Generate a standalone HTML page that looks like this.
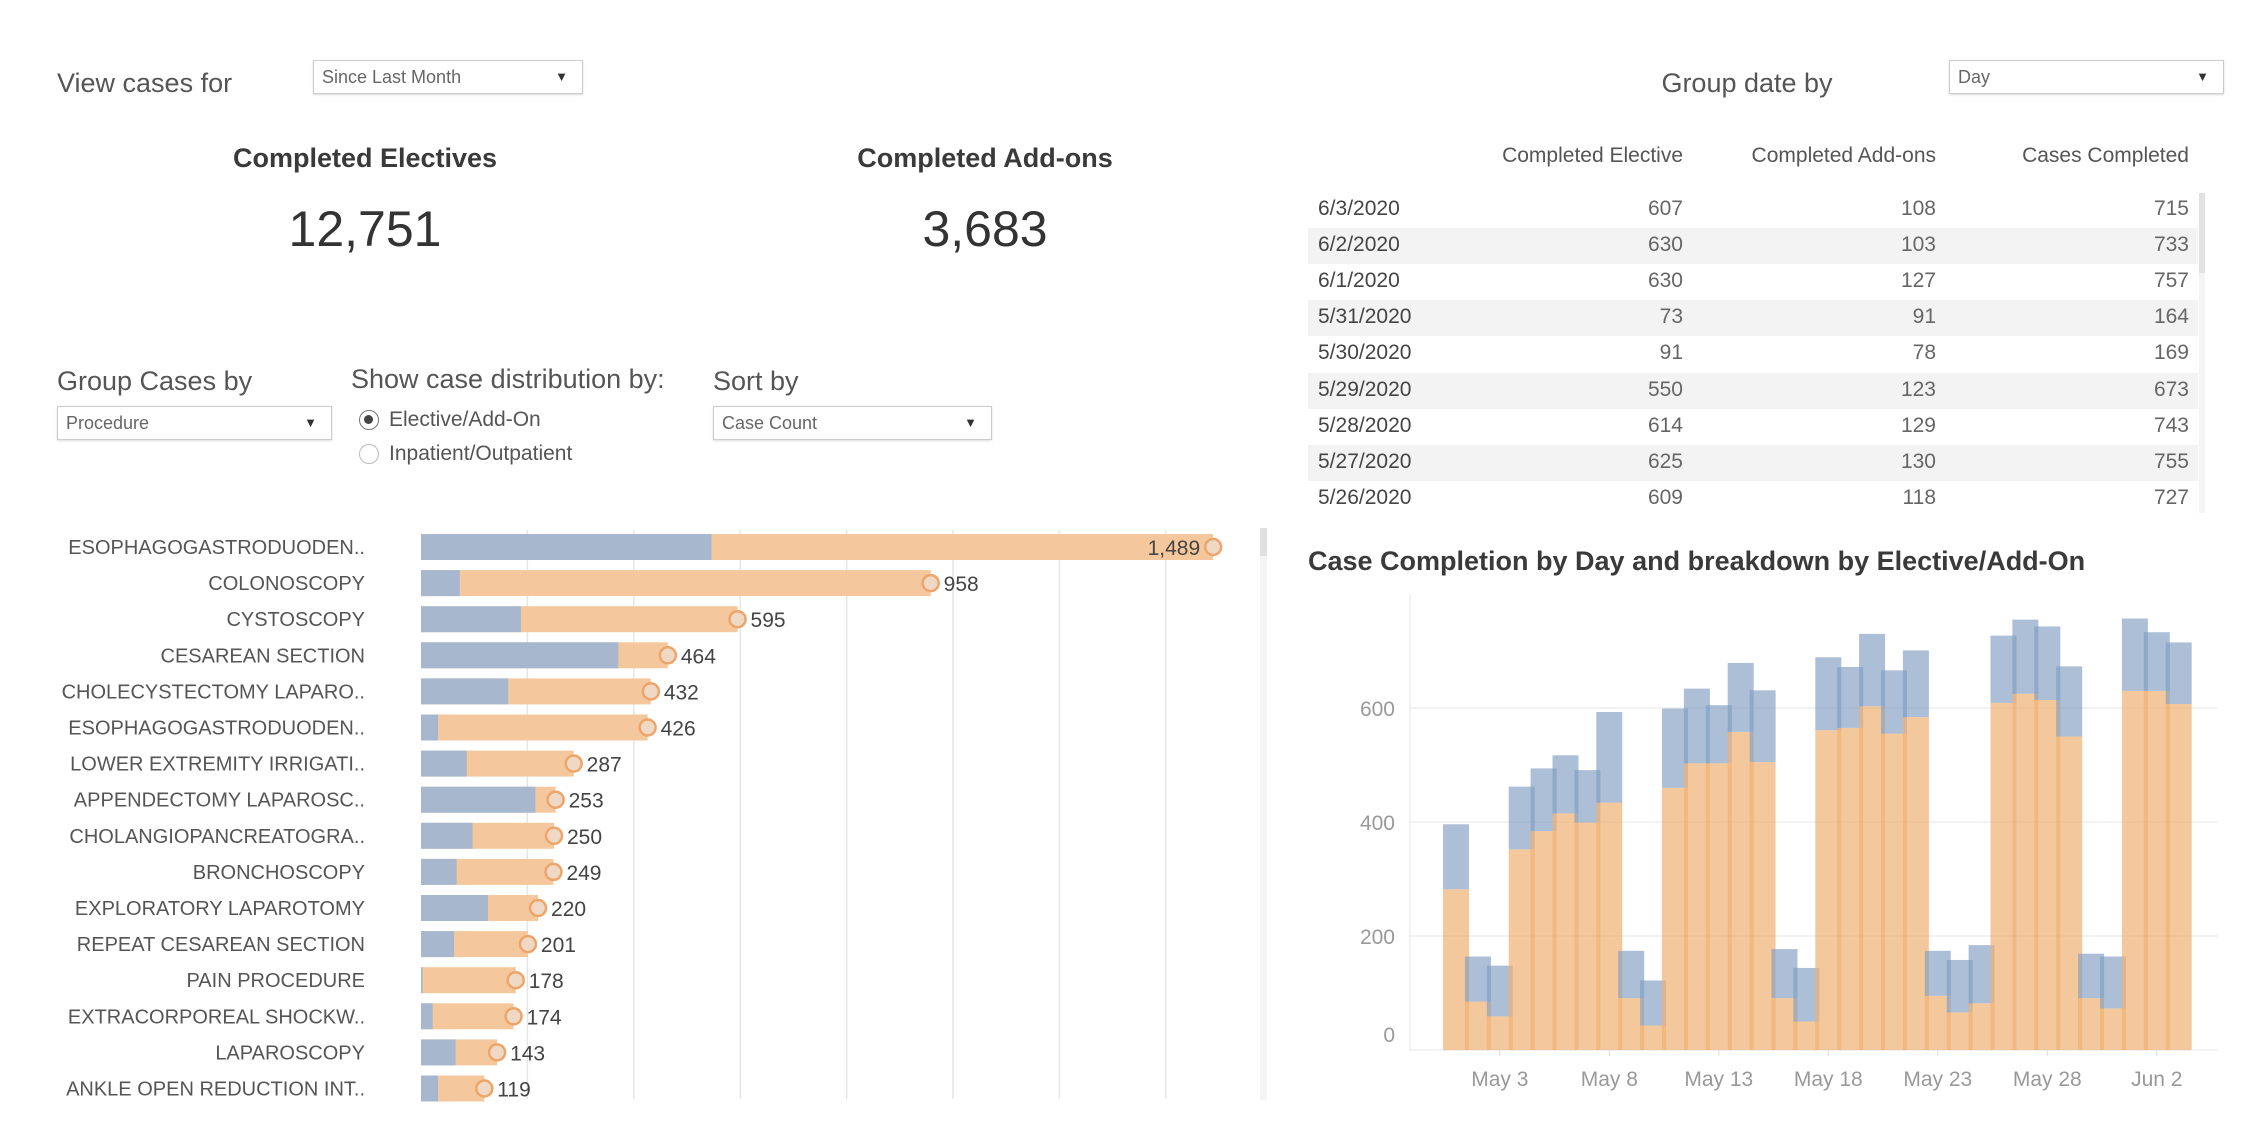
<!DOCTYPE html>
<html><head><meta charset="utf-8">
<style>
body{margin:0;width:2244px;height:1140px;background:#fff;position:relative;overflow:hidden;font-family:"Liberation Sans Narrow","Liberation Sans",sans-serif;color:#555}
.a{position:absolute;white-space:nowrap}
.dd{position:absolute;border:1px solid #ccc;background:#fff;box-shadow:0 1px 2px #ddd;font-size:18px;color:#666;box-sizing:border-box;padding:6px 8px}
.dd .arr{position:absolute;right:14px;top:8px;font-size:13px;color:#333}
.h{font-size:27px;color:#555}
</style></head><body>
<div class="a h" style="left:57px;top:68px">View cases for</div>
<div class="dd" style="left:313px;top:60px;width:270px;height:34px">Since Last Month<span class="arr">▼</span></div>
<div class="a" style="left:365px;top:143px;transform:translateX(-50%);font-size:27px;font-weight:bold;color:#3a3a3a">Completed Electives</div>
<div class="a" style="left:365px;top:200px;transform:translateX(-50%);font-size:50px;color:#333">12,751</div>
<div class="a" style="left:985px;top:143px;transform:translateX(-50%);font-size:27px;font-weight:bold;color:#3a3a3a">Completed Add-ons</div>
<div class="a" style="left:985px;top:200px;transform:translateX(-50%);font-size:50px;color:#333">3,683</div>
<div class="a h" style="left:1747px;top:68px;transform:translateX(-50%)">Group date by</div>
<div class="dd" style="left:1949px;top:60px;width:275px;height:34px">Day<span class="arr">▼</span></div>

<div class="a h" style="left:57px;top:366px">Group Cases by</div>
<div class="dd" style="left:57px;top:406px;width:275px;height:34px">Procedure<span class="arr">▼</span></div>
<div class="a h" style="left:351px;top:364px">Show case distribution by:</div>
<div class="a" style="left:359px;top:410px;width:20px;height:20px;border:1.5px solid #777;border-radius:50%;box-sizing:border-box"><div style="width:9px;height:9px;border-radius:50%;background:#444;margin:4px"></div></div>
<div class="a" style="left:389px;top:408px;font-size:21px">Elective/Add-On</div>
<div class="a" style="left:359px;top:444px;width:20px;height:20px;border:1.5px solid #bbb;border-radius:50%;box-sizing:border-box"></div>
<div class="a" style="left:389px;top:442px;font-size:21px">Inpatient/Outpatient</div>
<div class="a h" style="left:713px;top:366px">Sort by</div>
<div class="dd" style="left:713px;top:406px;width:279px;height:34px">Case Count<span class="arr">▼</span></div>

<div id="table"></div>
<div class="a" style="left:2199px;top:193px;width:6px;height:320px;background:#f4f4f4"><div style="height:80px;background:#e2e2e2"></div></div>
<div class="a" style="left:1260px;top:528px;width:7px;height:572px;background:#f4f4f4"><div style="height:28px;background:#e0e0e0"></div></div>

<div class="a" style="left:1308px;top:546px;font-size:27px;font-weight:bold;color:#3a3a3a">Case Completion by Day and breakdown by Elective/Add-On</div>

<svg id="bars" class="a" style="left:0;top:0" width="2244" height="1140"></svg>

<script>
// Procedure chart data
const procNames=["ESOPHAGOGASTRODUODEN..","COLONOSCOPY","CYSTOSCOPY","CESAREAN SECTION","CHOLECYSTECTOMY LAPARO..","ESOPHAGOGASTRODUODEN..","LOWER EXTREMITY IRRIGATI..","APPENDECTOMY LAPAROSC..","CHOLANGIOPANCREATOGRA..","BRONCHOSCOPY","EXPLORATORY LAPAROTOMY","REPEAT CESAREAN SECTION","PAIN PROCEDURE","EXTRACORPOREAL SHOCKW..","LAPAROSCOPY","ANKLE OPEN REDUCTION INT.."];
const procTotal=[1489,958,595,464,432,426,287,253,250,249,220,201,178,174,143,119];
const procBlue=[546,73,188,371,164,32,86,215,97,67,126,62,3,22,65,32];
const procGrid=[200,400,600,800,1000,1200,1400];
// Daily chart data
const dayLabels=["May 3","May 8","May 13","May 18","May 23","May 28","Jun 2"];
const dayLabelIdx=[2,7,12,17,22,27,32];
const elective=[282,85,59,352,384,415,399,434,91,43,460,503,503,558,505,91,50,561,565,603,555,584,95,66,82,609,625,614,550,91,73,630,630,607];
const addons=[114,79,89,110,110,102,92,159,83,79,139,131,102,121,126,86,94,128,107,127,111,117,79,92,102,118,130,129,123,78,91,127,103,108];
const yTicks=[0,200,400,600];
// Table data
const tDates=["6/3/2020","6/2/2020","6/1/2020","5/31/2020","5/30/2020","5/29/2020","5/28/2020","5/27/2020","5/26/2020"];
const tElective=[607,630,630,73,91,550,614,625,609];
const tAddon=[108,103,127,91,78,123,129,130,118];

const NS="http://www.w3.org/2000/svg";
const svg=document.getElementById('bars');
function mk(tag,attrs,parent){const e=document.createElementNS(NS,tag);for(const k in attrs)e.setAttribute(k,attrs[k]);(parent||svg).appendChild(e);return e;}
const BLUE="#a7b7ce",ORANGE="#f4c89c";

// procedure chart
const px0=421,pk=0.532,py0=547,pstep=36.1,bh=26;
const xP=v=>px0+v*pk, yP=i=>py0+i*pstep;
procGrid.forEach(g=>{const l=mk('line',{x1:xP(g),x2:xP(g),y1:530,y2:1099,stroke:'#e6e6e6','stroke-width':1.5});

});
procNames.forEach((n,i)=>{
 const y=yP(i);
 const t=mk('text',{x:365,y:y+7,'text-anchor':'end','font-size':20,fill:'#555'});t.textContent=n;
 
 
 const o=mk('rect',{x:px0,y:y-bh/2,width:procTotal[i]*pk,height:bh,fill:ORANGE});
 
 
 const b=mk('rect',{x:px0,y:y-bh/2,width:procBlue[i]*pk,height:bh,fill:BLUE});
 
 
 const c=mk('circle',{cx:xP(procTotal[i]),cy:y,r:8,fill:'#f0d9c4',stroke:'#eca56a','stroke-width':2.5});
 
 
 const lbl=procTotal[i].toLocaleString('en-US');
 const inside=xP(procTotal[i])+60>1255;
 const v=mk('text',{x:inside?xP(procTotal[i])-13:xP(procTotal[i])+13,y:y+8,'text-anchor':inside?'end':'start','font-size':21,fill:'#444'});v.textContent=lbl;
 
 
});

// daily chart
const y0=1050,yk=0.57,x0d=1456,dstep=21.9,bw=26;
const yD=v=>y0-v*yk, xD=i=>x0d+i*dstep;
yTicks.forEach(t=>{
 const l=mk('line',{x1:1410,x2:2218,y1:yD(t),y2:yD(t),stroke:'#eeeeee','stroke-width':1.5});
 
 
 const tx=mk('text',{x:1395,y:t===0?yD(t)-8:yD(t)+8,'text-anchor':'end','font-size':21,fill:'#999'});tx.textContent=t;
 
 
});
const ax=mk('line',{x1:1410,x2:1410,y1:594,y2:1050,stroke:'#eeeeee','stroke-width':1.5});


elective.forEach((e,i)=>{
 const x=xD(i)-bw/2;
 const r1=mk('rect',{x:x,y:yD(e),width:bw,height:e*yk,fill:'#f0b073','fill-opacity':0.7});
 
 
 const r2=mk('rect',{x:x,y:yD(e+addons[i]),width:bw,height:addons[i]*yk,fill:'#7f9cc2','fill-opacity':0.65});
 
 
});
dayLabels.forEach((d,k)=>{
 const x=xD(dayLabelIdx[k]);
 const tk=mk('line',{x1:x,x2:x,y1:1050,y2:1056,stroke:'#ddd'});
 
 
 const t=mk('text',{x:x,y:1086,'text-anchor':'middle','font-size':21,fill:'#999'});t.textContent=d;
 
 
});

// table
const tb=document.getElementById('table');
const hdrs=[["Completed Elective",1683],["Completed Add-ons",1936],["Cases Completed",2189]];
hdrs.forEach(h=>{const d=document.createElement('div');d.className='a';d.style.cssText=`right:${2244-h[1]}px;top:144px;font-size:21px;color:#555`;d.textContent=h[0];


tb.appendChild(d);});
tDates.forEach((dt,i)=>{
 const yc=210+i*36.1;
 if(i%2===1){const s=document.createElement('div');s.className='a';s.style.cssText=`left:1308px;top:${yc-18}px;width:890px;height:36px;background:#f3f3f3`;
 
 
 tb.appendChild(s);}
 const vals=[[dt,null],[tElective[i],1683],[tAddon[i],1936],[tElective[i]+tAddon[i],2189]];
 vals.forEach((v,j)=>{const d=document.createElement('div');d.className='a';
  d.style.cssText=(j===0?`left:1318px;`:`right:${2244-v[1]}px;`)+`top:${yc-13}px;font-size:21px;color:${j===0?'#444':'#666'}`;
  d.textContent=v[0];
  
  
  tb.appendChild(d);});
});
</script>
</body></html>
